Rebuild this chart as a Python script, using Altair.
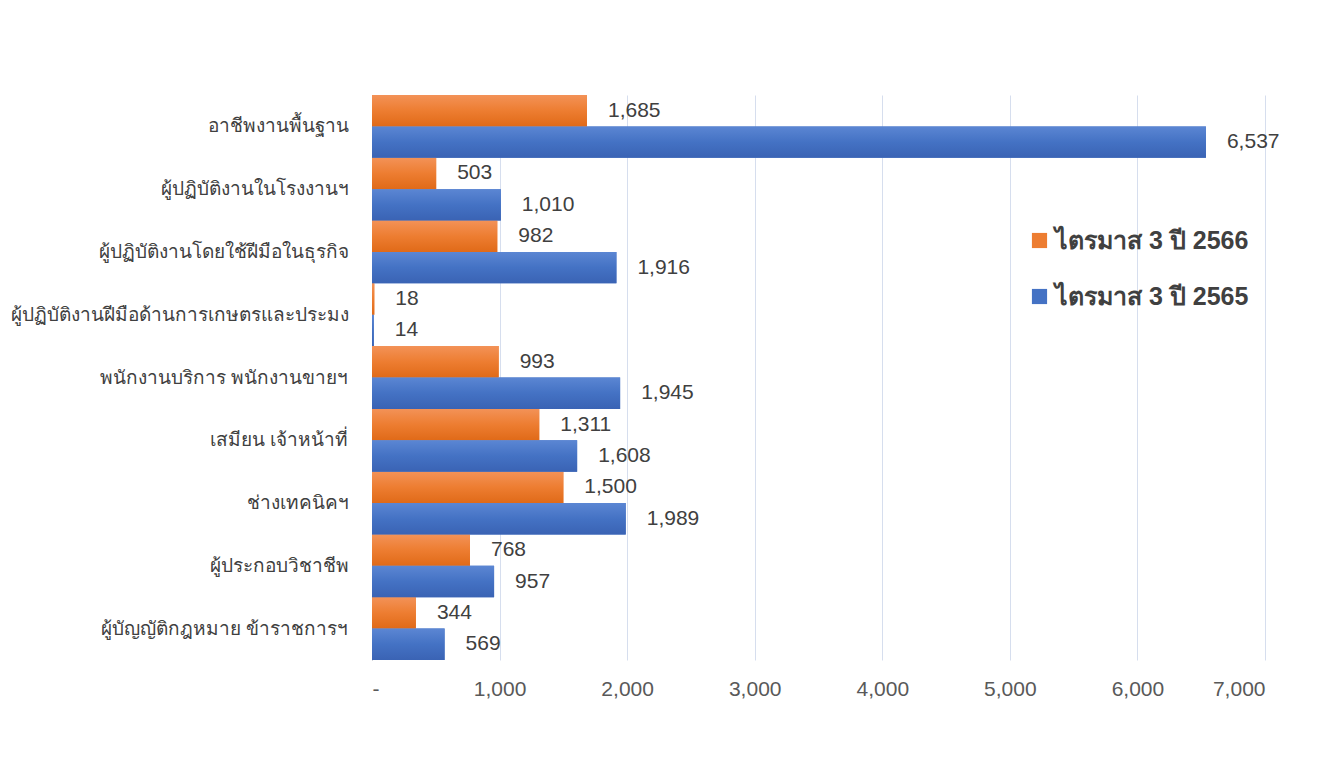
import altair as alt
import pandas as pd

categories = [
    "อาชีพงานพื้นฐาน",
    "ผู้ปฏิบัติงานในโรงงานฯ",
    "ผู้ปฏิบัติงานโดยใช้ฝีมือในธุรกิจ",
    "ผู้ปฏิบัติงานฝีมือด้านการเกษตรและประมง",
    "พนักงานบริการ พนักงานขายฯ",
    "เสมียน  เจ้าหน้าที่",
    "ช่างเทคนิคฯ",
    "ผู้ประกอบวิชาชีพ",
    "ผู้บัญญัติกฎหมาย ข้าราชการฯ",
]
series_names = ["ไตรมาส 3 ปี 2566", "ไตรมาส 3 ปี 2565"]
values_2566 = [1685, 503, 982, 18, 993, 1311, 1500, 768, 344]
values_2565 = [6537, 1010, 1916, 14, 1945, 1608, 1989, 957, 569]
x_ticks = [0, 1000, 2000, 3000, 4000, 5000, 6000, 7000]
colors = ["#ED7D31", "#4472C4"]
grad_stops = [
    ["#F39257", "#ED7D31", "#E06A18"],
    ["#5B86D3", "#4472C4", "#3A63B4"],
]

rows = []
for c, v in zip(categories, values_2566):
    rows.append({"category": c, "series": series_names[0], "value": v})
for c, v in zip(categories, values_2565):
    rows.append({"category": c, "series": series_names[1], "value": v})
df = pd.DataFrame(rows)

y_enc = alt.Y(
    "category:N",
    sort=categories,
    scale=alt.Scale(paddingInner=0, paddingOuter=0),
    axis=alt.Axis(
        title=None,
        labelFontSize=19,
        labelColor="#404040",
        labelPadding=24,
        ticks=False,
        domain=True,
        domainColor="#BFBFBF",
        labelLimit=500,
    ),
)
x_enc = alt.X(
    "value:Q",
    scale=alt.Scale(domain=[0, 7000], nice=False),
    axis=alt.Axis(
        title=None,
        values=x_ticks,
        labelExpr="datum.value == 0 ? '-' : format(datum.value, ',')",
        labelFontSize=21,
        labelFont="Liberation Sans",
        labelColor="#595959",
        labelPadding=18,
        ticks=False,
        domain=False,
        grid=True,
        gridColor="#D6DEEE",
        gridWidth=1,
    ),
)
yoff = alt.YOffset("series:N", sort=series_names)

bars = alt.Chart(df).mark_bar().encode(
    y=y_enc,
    x=x_enc,
    yOffset=yoff,
    color=alt.Color(
        "series:N",
        sort=series_names,
        scale=alt.Scale(domain=series_names, range=colors),
        legend=alt.Legend(
            title=None,
            orient="none",
            legendX=655,
            legendY=133,
            symbolType="square",
            symbolSize=230,
            symbolStrokeWidth=0,
            labelFontSize=25,
            labelFontWeight="bold",
            labelColor="#404040",
            labelOffset=3,
            labelLimit=400,
            rowPadding=30,
        ),
    ),
)

grad_layers = []
for name, stops in zip(series_names, grad_stops):
    g = alt.Gradient(
        gradient="linear",
        stops=[
            alt.GradientStop(color=stops[0], offset=0),
            alt.GradientStop(color=stops[1], offset=0.5),
            alt.GradientStop(color=stops[2], offset=1),
        ],
        x1=0, x2=0, y1=0, y2=1,
    )
    grad_layers.append(
        alt.Chart(df)
        .transform_filter(alt.datum.series == name)
        .mark_bar(fill=g)
        .encode(
            y=alt.Y("category:N", sort=categories),
            x=alt.X("value:Q"),
            yOffset=yoff,
        )
    )

labels = alt.Chart(df).mark_text(
    align="left", baseline="middle", dx=21, fontSize=21,
    font="Liberation Sans", color="#404040"
).encode(
    y=alt.Y("category:N", sort=categories),
    x=alt.X("value:Q"),
    yOffset=yoff,
    text=alt.Text("value:Q", format=","),
)

chart = (
    alt.layer(bars, *grad_layers, labels)
    .properties(
        width=893,
        height=565,
        autosize=alt.AutoSizeParams(type="none"),
        padding={"left": 364, "top": 87, "right": 46, "bottom": 95},
        background="white",
    )
    .configure_view(stroke=None)
)

chart.save("out.html", embed_options={"renderer": "svg", "actions": False})
